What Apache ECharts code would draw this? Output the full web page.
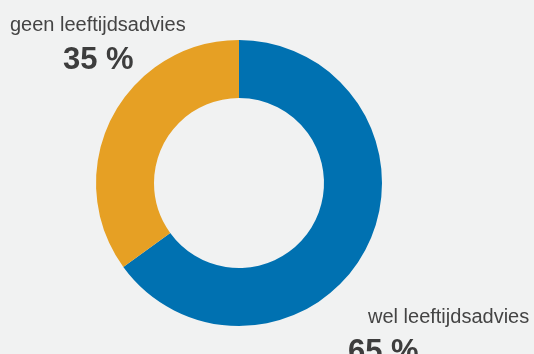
<!DOCTYPE html>
<html>
<head>
<meta charset="utf-8">
<script src="https://cdn.jsdelivr.net/npm/echarts@6/dist/echarts.min.js"></script>
<style>
  html, body { margin: 0; padding: 0; background: #f1f2f2; }
  #chart { width: 534px; height: 354px; }
</style>
</head>
<body>
<div id="chart"></div>
<script>
// data
const categories = ["wel leeftijdsadvies", "geen leeftijdsadvies"];
const values = [65, 35];
const colors = ["#0071b1", "#e6a024"];

// label placement (top-left of each label block) and indents
const labelPos = [
  { x: 348, y: 305, nameIndent: 20, pctIndent: 0 },
  { x: 10, y: 13, nameIndent: 0, pctIndent: 53 }
];

const chart = echarts.init(document.getElementById("chart"));

const font = "Liberation Sans, Arial";

const option = {
  backgroundColor: "#f1f2f2",
  animation: false,
  series: [
    {
      type: "pie",
      center: [239, 183],
      radius: [85, 143],
      startAngle: 90,
      clockwise: true,
      silent: true,
      data: categories.map((name, i) => ({
        name: name,
        value: values[i],
        itemStyle: { color: colors[i] }
      })),
      labelLine: { show: false },
      label: {
        show: true,
        position: "outside",
        overflow: "none",
        width: 300,
        formatter: params => {
          const i = params.dataIndex;
          return "{n" + i + "|" + params.name + "}\n{p" + i + "|" + params.percent + " %}";
        },
        rich: {
          n0: { fontFamily: font, fontSize: 20, color: "#444", lineHeight: 24, padding: [0, 0, 0, labelPos[0].nameIndent] },
          p0: { fontFamily: font, fontSize: 31, fontWeight: "bold", color: "#3d3d3d", lineHeight: 46, padding: [0, 0, 0, labelPos[0].pctIndent] },
          n1: { fontFamily: font, fontSize: 20, color: "#444", lineHeight: 24, padding: [0, 0, 0, labelPos[1].nameIndent] },
          p1: { fontFamily: font, fontSize: 31, fontWeight: "bold", color: "#3d3d3d", lineHeight: 46, padding: [0, 0, 0, labelPos[1].pctIndent] }
        }
      },
      labelLayout: params => ({
        x: labelPos[params.dataIndex].x,
        y: labelPos[params.dataIndex].y,
        align: "left",
        verticalAlign: "top",
        hideOverlap: false
      })
    }
  ]
};

chart.setOption(option);
</script>
</body>
</html>
